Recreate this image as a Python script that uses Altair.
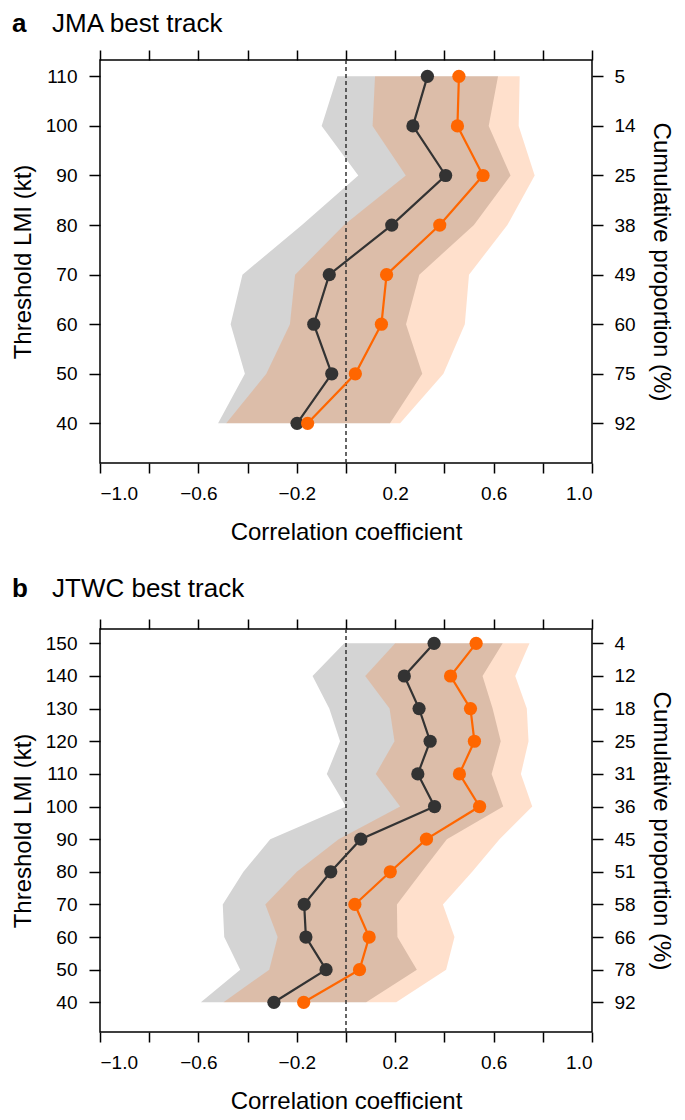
import altair as alt
import pandas as pd

# ---------------- data ----------------
kt_a = [40, 50, 60, 70, 80, 90, 100, 110]
prop_a = [92, 75, 60, 49, 38, 25, 14, 5]
black_a = [-0.199, -0.058, -0.131, -0.068, 0.186, 0.405, 0.272, 0.331]
orange_a = [-0.156, 0.038, 0.144, 0.165, 0.381, 0.557, 0.453, 0.459]
black_lo_a = [-0.520, -0.411, -0.469, -0.421, -0.179, 0.050, -0.099, -0.035]
black_hi_a = [0.179, 0.310, 0.244, 0.298, 0.520, 0.669, 0.580, 0.618]
orange_lo_a = [-0.487, -0.324, -0.228, -0.207, -0.008, 0.243, 0.108, 0.118]
orange_hi_a = [0.220, 0.396, 0.483, 0.500, 0.656, 0.767, 0.702, 0.706]

kt_b = [40, 50, 60, 70, 80, 90, 100, 110, 120, 130, 140, 150]
prop_b = [92, 78, 66, 58, 51, 45, 36, 31, 25, 18, 12, 4]
black_b = [-0.293, -0.081, -0.163, -0.170, -0.062, 0.060, 0.360, 0.292, 0.342, 0.297, 0.237, 0.358]
orange_b = [-0.172, 0.055, 0.094, 0.036, 0.180, 0.327, 0.543, 0.461, 0.522, 0.506, 0.425, 0.529]
black_lo_b = [-0.590, -0.430, -0.495, -0.501, -0.417, -0.308, 0.000, -0.078, -0.024, -0.068, -0.136, -0.007]
black_hi_b = [0.082, 0.288, 0.209, 0.207, 0.308, 0.410, 0.639, 0.592, 0.629, 0.596, 0.555, 0.637]
orange_lo_b = [-0.498, -0.312, -0.278, -0.328, -0.200, -0.030, 0.220, 0.121, 0.197, 0.177, 0.078, 0.200]
orange_hi_b = [0.204, 0.407, 0.441, 0.394, 0.513, 0.624, 0.757, 0.711, 0.742, 0.735, 0.688, 0.746]

x_ticks = [round(-1.0 + 0.2 * i, 1) for i in range(11)]

FONT = "Liberation Sans"
BLACK = "#333333"
ORANGE = "#FF6600"
GREY_BAND = "#d4d4d4"


def panel(kt, prop, blk, org, blo, bhi, olo, ohi, ydom, letter, name, title_y):
    df = pd.DataFrame({"kt": kt, "blk": blk, "org": org,
                       "blo": blo, "bhi": bhi, "olo": olo, "ohi": ohi})
    base = alt.Chart(df)
    ys = alt.Scale(domain=ydom, nice=False, zero=False)
    xs = alt.Scale(domain=[-1, 1], nice=False, zero=False)

    left_axis = alt.Axis(values=kt, orient="left", title="Threshold LMI (kt)",
                         tickSize=11, labelPadding=12, titlePadding=10,
                         grid=False, domain=False)
    right_expr = "[" + ",".join(f"'{p}'" for p in prop) + "][indexof([" + \
        ",".join(str(k) for k in kt) + "], datum.value)]"
    right_axis = alt.Axis(values=kt, orient="right", title="Cumulative proportion (%)",
                          labelExpr=right_expr, tickSize=11, labelPadding=11,
                          titlePadding=13, grid=False, domain=False)
    bottom_axis = alt.Axis(values=x_ticks, orient="bottom", title="Correlation coefficient",
                           labelExpr="(round(datum.value*10)+10) % 4 == 0 ? format(datum.value, '.1f') : ''",
                           tickSize=10, labelPadding=11, titlePadding=17,
                           grid=False, domain=False)
    top_axis = alt.Axis(values=x_ticks, orient="top", title=None, labels=False,
                        tickSize=10, grid=False, domain=False)

    grey = base.mark_area(orient="horizontal", color=GREY_BAND, opacity=1).encode(
        y=alt.Y("kt:Q", scale=ys, axis=left_axis),
        x=alt.X("blo:Q", scale=xs, axis=bottom_axis),
        x2="bhi:Q",
    )
    oband = base.mark_area(orient="horizontal", color=ORANGE, opacity=0.2).encode(
        y=alt.Y("kt:Q", scale=ys, axis=None),
        x=alt.X("olo:Q", scale=xs, axis=None),
        x2="ohi:Q",
    )
    rule = alt.Chart(pd.DataFrame({"z": [0.0]})).mark_rule(
        color=BLACK, strokeDash=[4, 3], strokeWidth=1.5).encode(
        x=alt.X("z:Q", scale=xs, axis=top_axis),
    )
    bline = base.mark_line(color=BLACK, strokeWidth=2.2).encode(
        y=alt.Y("kt:Q", scale=ys, axis=right_axis),
        x=alt.X("blk:Q", scale=xs, axis=None),
        order="kt:Q",
    )
    bpts = base.mark_circle(color=BLACK, size=175, opacity=1).encode(
        y=alt.Y("kt:Q", scale=ys, axis=None),
        x=alt.X("blk:Q", scale=xs, axis=None),
    )
    oline = base.mark_line(color=ORANGE, strokeWidth=2.2).encode(
        y=alt.Y("kt:Q", scale=ys, axis=None),
        x=alt.X("org:Q", scale=xs, axis=None),
        order="kt:Q",
    )
    opts = base.mark_circle(color=ORANGE, size=175, opacity=1).encode(
        y=alt.Y("kt:Q", scale=ys, axis=None),
        x=alt.X("org:Q", scale=xs, axis=None),
    )
    letter_txt = alt.Chart(pd.DataFrame({"t": [letter]})).mark_text(
        font=FONT, fontSize=26, fontWeight="bold", align="left",
        baseline="alphabetic", color="black").encode(
        text="t:N", x=alt.value(-88), y=alt.value(title_y))
    name_txt = alt.Chart(pd.DataFrame({"t": [name]})).mark_text(
        font=FONT, fontSize=26, fontWeight="normal", align="left",
        baseline="alphabetic", color="black").encode(
        text="t:N", x=alt.value(-48), y=alt.value(title_y))

    return alt.layer(grey, oband, rule, bline, bpts, oline, opts, letter_txt, name_txt).resolve_scale(
        x="shared", y="shared").resolve_axis(x="independent", y="independent").properties(
        width=492, height=403)


pa = panel(kt_a, prop_a, black_a, orange_a, black_lo_a, black_hi_a,
           orange_lo_a, orange_hi_a, [32, 113.3], "a", "JMA best track", -28)
pb = panel(kt_b, prop_b, black_b, orange_b, black_lo_b, black_hi_b,
           orange_lo_b, orange_hi_b, [30.9, 154.4], "b", "JTWC best track", -32)

chart = alt.vconcat(pa, pb, spacing=166, bounds="flush").resolve_scale(
    x="independent", y="independent").properties(
    padding={"left": 2, "top": 2, "right": 4, "bottom": 0}).configure_view(
    stroke="black", strokeWidth=1.5).configure_axis(
    labelFont=FONT, labelFontSize=19, labelColor="black",
    titleFont=FONT, titleFontSize=24, titleFontWeight="normal", titleColor="black",
    tickColor="black", tickWidth=1.5)

chart.save("out.html", embed_options={"renderer": "svg", "actions": False})
